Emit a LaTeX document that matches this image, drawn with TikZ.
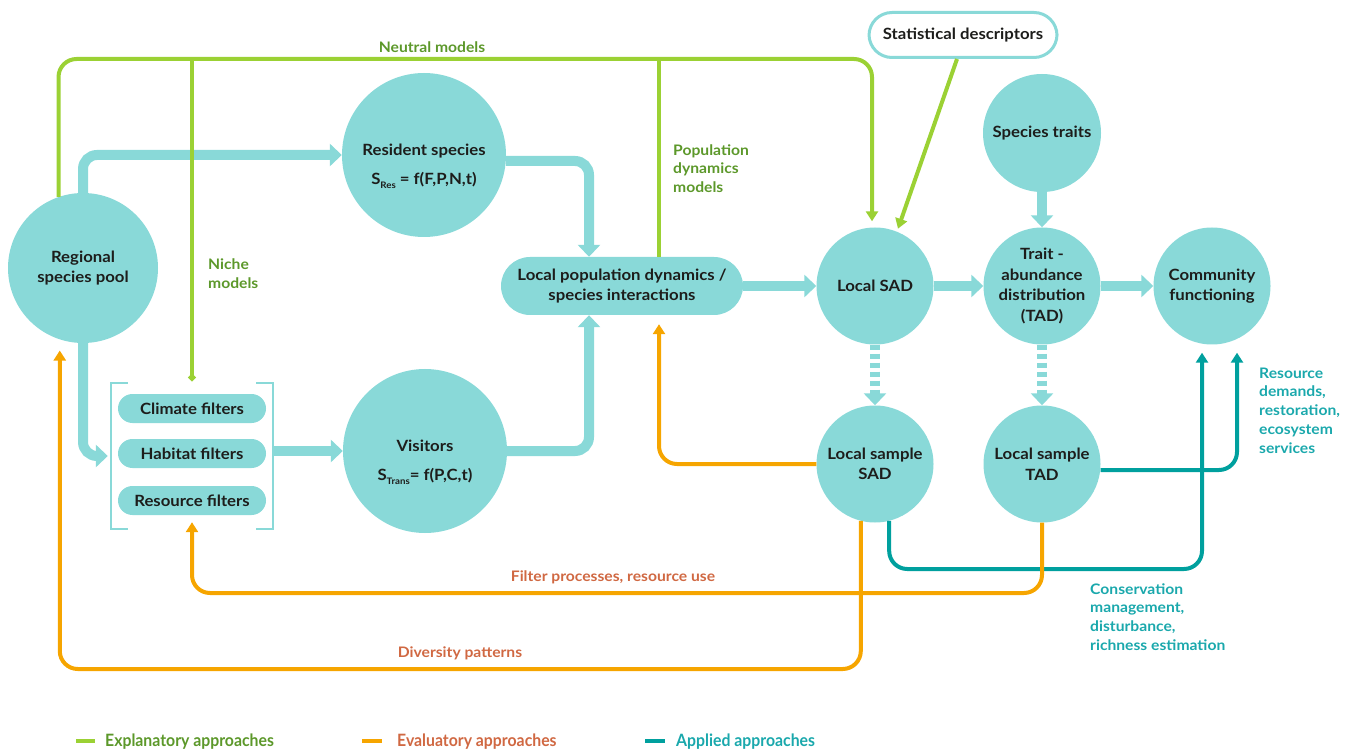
\documentclass[tikz,border=0pt]{standalone}
\usepackage{fontspec}
\setmainfont{Lato}
\newfontfamily\widefont{Lato}[FakeStretch=1.08]
\newfontfamily\legfont{Lato}[FakeStretch=0.93]
\usetikzlibrary{arrows.meta}
\definecolor{cyanfill}{RGB}{137,217,216}
\definecolor{lgreen}{RGB}{155,209,52}
\definecolor{dgreen}{RGB}{92,152,42}
\definecolor{lorange}{RGB}{246,165,0}
\definecolor{dorange}{RGB}{208,104,66}
\definecolor{tealline}{RGB}{0,160,158}
\definecolor{tealtext}{RGB}{26,168,172}
\definecolor{ink}{RGB}{29,29,27}
\newcommand{\subtxt}[1]{\raisebox{-4pt}{\fontsize{9}{9}\selectfont #1}}
\tikzset{
  circ/.style={circle, fill=cyanfill, inner sep=0pt, text=ink, align=center,
    font=\widefont\bfseries\fontsize{15.5}{20.5}\selectfont},
  txt/.style={text=ink, align=center, inner sep=0pt, font=\widefont\bfseries\fontsize{15.5}{20}\selectfont},
  pill/.style={rectangle, rounded corners=14.5pt, fill=cyanfill, minimum width=148pt,
    minimum height=29pt, inner sep=0pt, text=ink, font=\widefont\bfseries\fontsize{15.5}{18}\selectfont},
  bracketline/.style={draw=cyanfill, line width=2.5pt},
  carrow/.style={draw=cyanfill, line width=10pt, rounded corners=14pt,
    -{Triangle[width=22pt,length=12pt]}},
  cdash/.style={draw=cyanfill, line width=10pt, dash pattern=on 5pt off 4pt,
    -{Triangle[width=22pt,length=12pt]}},
  gline/.style={draw=lgreen, line width=4pt, rounded corners=18pt},
  garrow/.style={gline, -{Triangle[width=12pt,length=10pt]}},
  oarrow/.style={draw=lorange, line width=4pt, rounded corners=18pt,
    -{Triangle[width=12pt,length=10pt]}},
  tarrow/.style={draw=tealline, line width=4pt, rounded corners=18pt,
    -{Triangle[width=12pt,length=10pt]}},
  glbl/.style={text=dgreen, align=left, inner sep=0pt, font=\widefont\bfseries\fontsize{14.5}{18.7}\selectfont},
  olbl/.style={text=dorange, align=left, inner sep=0pt, font=\widefont\bfseries\fontsize{14.5}{18.7}\selectfont},
  tlbl/.style={text=tealtext, align=left, inner sep=0pt, font=\widefont\bfseries\fontsize{14.5}{18.7}\selectfont},
  leglbl/.style={anchor=west, inner sep=0pt, font=\legfont\bfseries\fontsize{17}{18}\selectfont},
}
\begin{document}
\begin{tikzpicture}[x=1pt,y=-1pt]
\useasboundingbox (0,0) rectangle (1350,751);

% nodes
\node[circ, minimum size=150pt] (pool) at (83,268) {Regional\\species pool};
\node[circ, minimum size=164pt] (res) at (424,155) {};
\node[txt] (restxt) at (424,166) {Resident species\\[9pt]S\subtxt{Res} = f(F,P,N,t)};
\node[circ, minimum size=164pt] (vis) at (425,451) {};
\node[txt] (vistxt) at (425,462) {Visitors\\[9pt]S\subtxt{Trans}= f(P,C,t)};
\node[rectangle, rounded corners=29pt, fill=cyanfill, minimum width=242pt, minimum height=58pt,
  inner sep=0pt, text=ink, align=center, font=\widefont\bfseries\fontsize{15.5}{20}\selectfont]
  (lpd) at (622,286) {Local population dynamics /\\species interactions};
\node[circ, minimum size=117pt] (sad) at (875,286) {Local SAD};
\node[circ, minimum size=117pt] (tad) at (1042,286) {Trait -\\abundance\\distribution\\(TAD)};
\node[circ, minimum size=117pt] (cf) at (1212,286) {Community\\functioning};
\node[circ, minimum size=118pt] (traits) at (1042,133) {Species traits};
\node[rectangle, rounded corners=23pt, fill=white, draw=cyanfill, line width=3pt,
  minimum width=188pt, minimum height=45pt, inner sep=0pt, text=ink,
  font=\widefont\bfseries\fontsize{15.5}{18}\selectfont] (stat) at (963,35) {Statistical descriptors};
\node[circ, minimum size=117pt] (lss) at (875,464) {Local sample\\SAD};
\node[circ, minimum size=117pt] (lst) at (1042,464) {Local sample\\TAD};
\node[pill] (climate) at (192,408.5) {Climate filters};
\node[pill] (habitat) at (192,453.5) {Habitat filters};
\node[pill] (resource) at (192,500.5) {Resource filters};
\node[inner sep=0pt, minimum width=162pt, minimum height=146pt] (filt) at (192,456) {};
\draw[bracketline] ([xshift=17pt]filt.north west) -- (filt.north west) -- (filt.south west) -- ([xshift=17pt]filt.south west);
\draw[bracketline] ([xshift=-17pt]filt.north east) -- (filt.north east) -- (filt.south east) -- ([xshift=-17pt]filt.south east);

% cyan connectors
\draw[carrow] (pool.north) |- (res.west);
\draw[carrow, shorten >=3pt] (pool.south) |- (filt.west);
\draw[carrow] (vis.west -| filt.east) -- (vis.west);
\draw[carrow] ([yshift=-6pt]res.east) -| ([xshift=-33pt]lpd.north);
\draw[carrow] (vis.east) -| ([xshift=-33pt]lpd.south);
\draw[carrow] (lpd.east) -- (sad.west);
\draw[carrow] (sad.east) -- (tad.west);
\draw[carrow] (tad.east) -- (cf.west);
\draw[carrow] (traits.south) -- (tad.north);
\draw[cdash] (sad.south) -- (lss.north);
\draw[cdash] (tad.south) -- (lst.north);

% teal connectors
\coordinate (cm) at (1050,569);
\draw[tarrow, shorten >=8pt] (lss.-76) |- (cm) -| ([xshift=-10pt]cf.south);
\draw[tarrow, shorten >=8pt] ([yshift=-6pt]lst.east) -| ([xshift=25pt]cf.south);

% orange connectors
\draw[oarrow, shorten >=9pt] (lss.west) -| ([xshift=37pt]lpd.south);
\coordinate (fp) at (613,593);
\draw[oarrow, shorten >=7pt] (lst.south) |- (fp) -| (resource.south);
\coordinate (dp) at (460,669);
\draw[oarrow, shorten >=11pt] (lss.-104) |- (dp) -| (pool.-108.7);

% green connectors
\coordinate (nt) at (432,59);
\draw[garrow, shorten >=6pt] (pool.109.5) |- (nt) -| ([xshift=-3pt]sad.north);
\coordinate (nb) at (192,59);
\coordinate (ne) at (192,381);
\draw[draw=lgreen, line width=4pt, -{Circle[length=7pt]}] (nb) -- (ne);
\coordinate (pb) at (659,59);
\draw[draw=lgreen, line width=4pt] (pb) -- (pb |- lpd.north);
\draw[garrow, shorten >=3pt] ([xshift=-6pt]stat.south) -- (sad.68);

% labels
\node[glbl] (neutral) at (432,47) {Neutral models};
\node[glbl, anchor=west] (niche) at (208,273.5) {Niche\\models};
\node[glbl, anchor=west] (popdyn) at (673,168.5) {Population\\dynamics\\models};
\node[olbl] (filtlbl) at (613,577) {Filter processes, resource use};
\node[olbl] (divlbl) at (460,653) {Diversity patterns};
\node[tlbl, anchor=west] (reslbl) at (1259,410.5) {Resource\\demands,\\restoration,\\ecosystem\\services};
\node[tlbl, anchor=west] (conslbl) at (1090,617) {Conservation\\management,\\disturbance,\\richness estimation};

% legend
\draw[draw=lgreen, line width=4pt] (76,741) -- (95,741);
\node[leglbl, text=dgreen] (leg1) at (105,742) {Explanatory approaches};
\draw[draw=lorange, line width=4pt] (362,741) -- (382,741);
\node[leglbl, text=dorange] (leg2) at (397,742) {Evaluatory approaches};
\draw[draw=tealline, line width=4pt] (645,741) -- (665,741);
\node[leglbl, text=tealtext] (leg3) at (676,742) {Applied approaches};
\end{tikzpicture}
\end{document}
